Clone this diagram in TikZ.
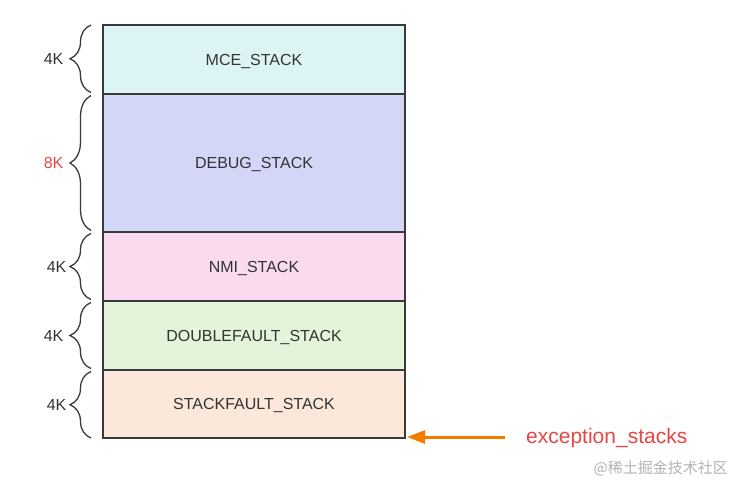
\documentclass[tikz,border=0pt]{standalone}
\definecolor{mceCyan}{RGB}{221,244,245}
\definecolor{debugBlue}{RGB}{212,214,247}
\definecolor{nmiPink}{RGB}{250,218,238}
\definecolor{doubleGreen}{RGB}{227,244,218}
\definecolor{faultPeach}{RGB}{251,232,218}
\definecolor{frameGray}{RGB}{58,58,58}
\definecolor{labelGray}{RGB}{51,51,51}
\definecolor{labelRed}{RGB}{232,69,69}
\definecolor{arrowOrange}{RGB}{245,124,0}
\definecolor{markGray}{RGB}{178,178,178}
\usepackage{fontspec}
\setmainfont{Liberation Sans}
\newfontfamily\cjkfont{Noto Sans CJK SC}
\usepackage{tikz}
\usetikzlibrary{arrows.meta,positioning,decorations.pathreplacing}

\begin{document}
\begin{tikzpicture}[x=1pt,y=-1pt,
    stackbox/.style={draw=frameGray,line width=1.2pt,minimum width=302pt,text depth=0pt,
      outer sep=0pt,inner sep=0pt,text=labelGray,font=\fontsize{16}{19}\selectfont},
    sizebrace/.style={decorate,decoration={brace,amplitude=21pt},
      draw=frameGray,line width=1.3pt},
    sizelabel/.style={inner sep=0pt,text=labelGray,font=\fontsize{16}{19}\selectfont}]
        \useasboundingbox (0,0) rectangle (735,483);
        % Stack blocks
        \node[stackbox,fill=mceCyan,minimum height=69pt,anchor=north west] (mce) at (103,25) {MCE\_STACK};
        \node[stackbox,fill=debugBlue,minimum height=138pt,below=0pt of mce] (debug) {DEBUG\_STACK};
        \node[stackbox,fill=nmiPink,minimum height=69pt,below=0pt of debug] (nmi) {NMI\_STACK};
        \node[stackbox,fill=doubleGreen,minimum height=69pt,below=0pt of nmi] (dbl) {DOUBLEFAULT\_STACK};
        \node[stackbox,fill=faultPeach,minimum height=68pt,below=0pt of dbl] (sf) {STACKFAULT\_STACK};
        % Size braces
        \draw[sizebrace] ([xshift=-12pt,yshift=1.5pt]mce.south west) -- ([xshift=-12pt]mce.north west)
          node[sizelabel,midway,left=27pt] (kmce) {4K};
        \draw[sizebrace] ([xshift=-12pt,yshift=1.5pt]debug.south west) -- ([xshift=-12pt,yshift=-1.5pt]debug.north west)
          node[sizelabel,midway,left=27pt,text=labelRed] (kdebug) {8K};
        \draw[sizebrace] ([xshift=-12pt,yshift=1.5pt]nmi.south west) -- ([xshift=-12pt,yshift=-1.5pt]nmi.north west)
          node[sizelabel,midway,left=24pt] (knmi) {4K};
        \draw[sizebrace] ([xshift=-12pt,yshift=1.5pt]dbl.south west) -- ([xshift=-12pt,yshift=-1.5pt]dbl.north west)
          node[sizelabel,midway,left=27pt] (kdbl) {4K};
        \draw[sizebrace] ([xshift=-12pt]sf.south west) -- ([xshift=-12pt,yshift=-1.5pt]sf.north west)
          node[sizelabel,midway,left=24pt] (ksf) {4K};
        % Pointer to the bottom
        \coordinate (arrowtail) at (505,437);
        \draw[-{Triangle[length=18pt,width=13pt]},line width=3pt,arrowOrange]
          (arrowtail) -- ([xshift=2pt,yshift=1pt]sf.south east);
        \node[inner sep=0pt,anchor=west,text=labelRed,font=\fontsize{21}{25}\selectfont]
          (exc) at (526,438) {exception\_stacks};
        % Watermark
        \node[inner sep=0pt,anchor=east,text=markGray,font=\cjkfont\fontsize{15}{18}\selectfont]
          (mark) at (728,468) {@稀土掘金技术社区};
      \end{tikzpicture}
\end{document}
